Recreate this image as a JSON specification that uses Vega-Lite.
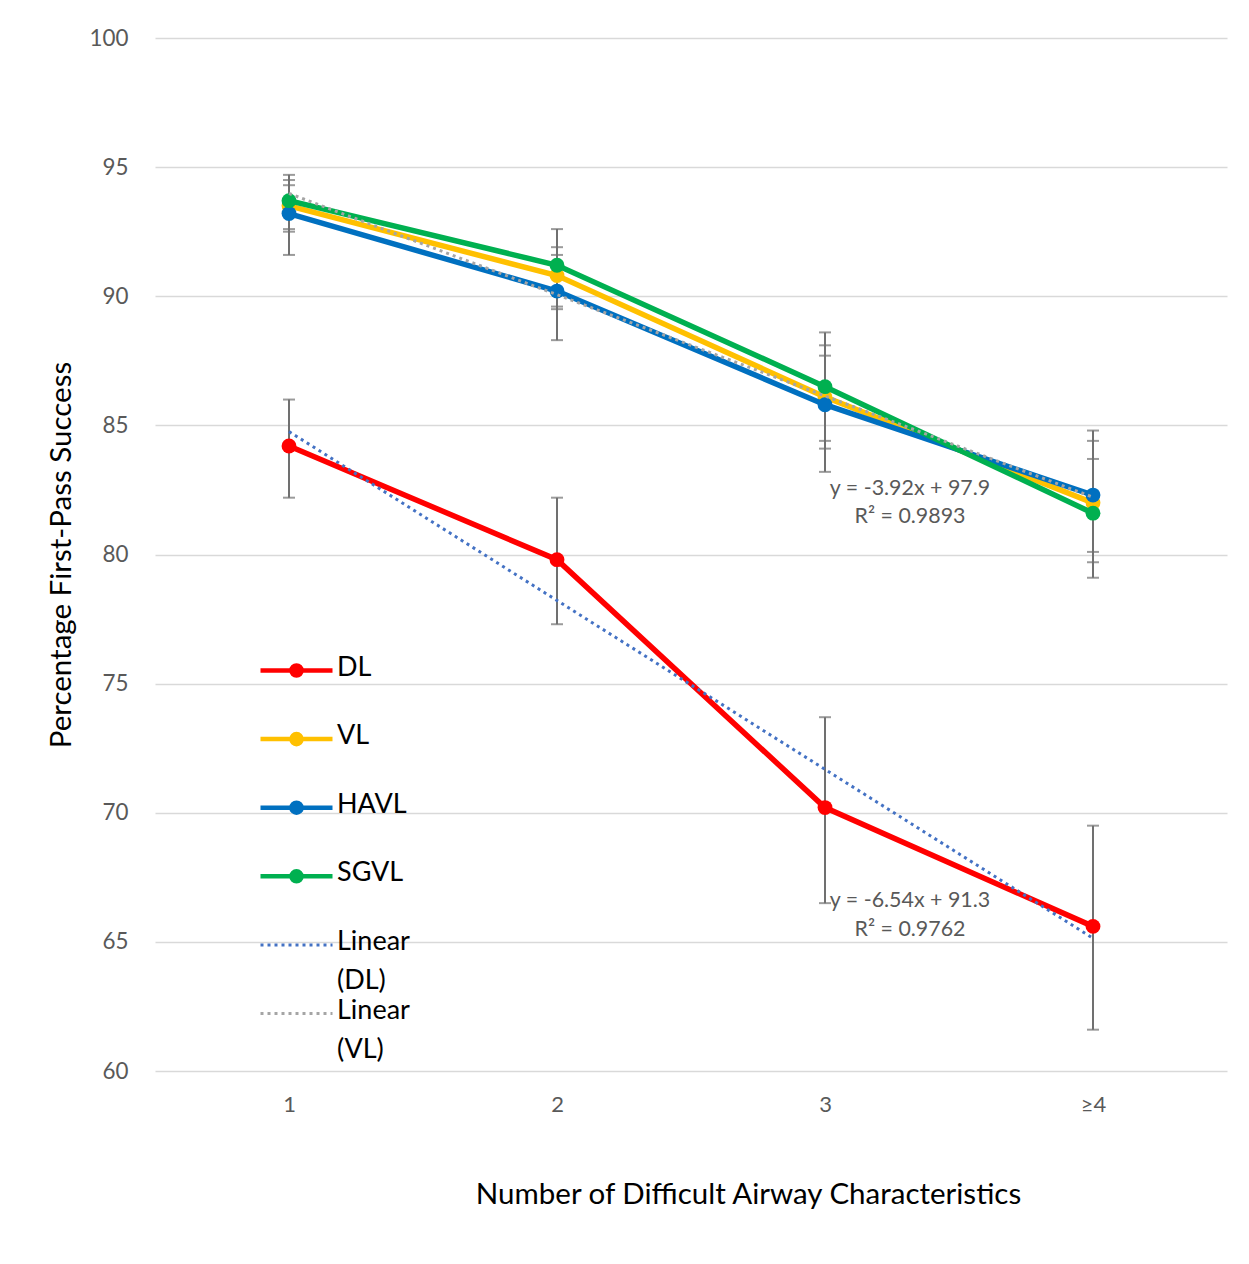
{
  "$schema": "https://vega.github.io/schema/vega-lite/v6.json",
  "width": 1072,
  "height": 1033,
  "autosize": {"type": "none"},
  "padding": {"left": 155, "top": 38, "right": 22, "bottom": 193},
  "background": "white",
  "config": {
    "font": "Lato",
    "view": {"stroke": null},
    "axis": {"labelFont": "Lato", "titleFont": "Lato", "titleFontWeight": "normal"}
  },
  "datasets": {
    "main": [
      {"cat": "1", "series": "DL", "value": 84.2, "low": 82.2, "high": 86.0},
      {"cat": "2", "series": "DL", "value": 79.8, "low": 77.3, "high": 82.2},
      {"cat": "3", "series": "DL", "value": 70.2, "low": 66.5, "high": 73.7},
      {"cat": "≥4", "series": "DL", "value": 65.6, "low": 61.6, "high": 69.5},
      {"cat": "1", "series": "VL", "value": 93.5, "low": 92.5, "high": 94.5},
      {"cat": "2", "series": "VL", "value": 90.8, "low": 89.5, "high": 91.9},
      {"cat": "3", "series": "VL", "value": 86.1, "low": 84.1, "high": 88.1},
      {"cat": "≥4", "series": "VL", "value": 82.0, "low": 79.7, "high": 84.8},
      {"cat": "1", "series": "HAVL", "value": 93.2, "low": 91.6, "high": 94.3},
      {"cat": "2", "series": "HAVL", "value": 90.2, "low": 88.3, "high": 91.6},
      {"cat": "3", "series": "HAVL", "value": 85.8, "low": 83.2, "high": 87.7},
      {"cat": "≥4", "series": "HAVL", "value": 82.3, "low": 80.1, "high": 84.4},
      {"cat": "1", "series": "SGVL", "value": 93.7, "low": 92.6, "high": 94.7},
      {"cat": "2", "series": "SGVL", "value": 91.2, "low": 89.6, "high": 92.6},
      {"cat": "3", "series": "SGVL", "value": 86.5, "low": 84.4, "high": 88.6},
      {"cat": "≥4", "series": "SGVL", "value": 81.6, "low": 79.1, "high": 83.7}
    ],
    "trend": [
      {"cat": "1", "series": "Linear (DL)", "value": 84.76},
      {"cat": "≥4", "series": "Linear (DL)", "value": 65.14},
      {"cat": "1", "series": "Linear (VL)", "value": 93.98},
      {"cat": "≥4", "series": "Linear (VL)", "value": 82.22}
    ],
    "notes": [
      {"cat": "3", "value": 82.54, "text": "y = -3.92x + 97.9"},
      {"cat": "3", "value": 81.45, "text": "R² = 0.9893"},
      {"cat": "3", "value": 66.58, "text": "y = -6.54x + 91.3"},
      {"cat": "3", "value": 65.46, "text": "R² = 0.9762"}
    ]
  },
  "encoding": {
    "x": {
      "field": "cat", "type": "ordinal",
      "scale": {"type": "point", "padding": 0.5, "domain": ["1", "2", "3", "≥4"]},
      "axis": {
        "title": "Number of Difficult Airway Characteristics",
        "labelAngle": 0, "labelFontSize": 22, "labelColor": "#595959", "labelPadding": 23,
        "ticks": false, "domain": false, "grid": false,
        "titleFontSize": 29.5, "titleColor": "#000000", "titlePadding": 65, "titleX": 593, "titleAlign": "center"
      }
    },
    "y": {
      "field": "value", "type": "quantitative",
      "scale": {"domain": [60, 100], "nice": false, "zero": false},
      "axis": {
        "title": "Percentage First-Pass Success",
        "values": [60, 65, 70, 75, 80, 85, 90, 95, 100],
        "labelFontSize": 22.4, "labelColor": "#595959", "labelPadding": 27,
        "ticks": false, "domain": false, "grid": true, "gridColor": "#D9D9D9", "gridWidth": 1.5,
        "titleFontSize": 29.5, "titleColor": "#000000", "titlePadding": 13
      }
    },
    "color": {
      "field": "series", "type": "nominal",
      "scale": {
        "domain": ["DL", "VL", "HAVL", "SGVL", "Linear (DL)", "Linear (VL)"],
        "range": ["#FF0000", "#FFC000", "#0070C0", "#00B050", "#4472C4", "#A5A5A5"]
      },
      "legend": {
        "title": null,
        "orient": "none",
        "legendX": 128,
        "legendY": 619,
        "padding": 0,
        "rowPadding": 1.6,
        "symbolSize": 5184,
        "symbolStrokeWidth": 4.5,
        "labelFontSize": 27,
        "labelFont": "Lato",
        "labelColor": "#000000",
        "labelOffset": 27,
        "labelLimit": 300,
        "labelBaseline": "top",
        "labelExpr": "datum.label == 'Linear (DL)' ? ['Linear', '(DL)'] : datum.label == 'Linear (VL)' ? ['Linear', '(VL)'] : [datum.label, ' ']",
        "encode": {
          "labels": {
            "update": {
              "lineHeight": {"value": 39},
              "dy": {"value": -16}
            }
          },
          "symbols": {
            "update": {
              "shape": {"signal": "indexof(['Linear (DL)', 'Linear (VL)'], datum.value) >= 0 ? 'stroke' : 'M-1,0H1M0.14,0A0.14,0.14,0,1,1,-0.14,0A0.14,0.14,0,1,1,0.14,0Z'"},
              "fill": {"scale": "color", "field": "value"},
              "stroke": {"scale": "color", "field": "value"},
              "strokeDash": {"signal": "indexof(['Linear (DL)', 'Linear (VL)'], datum.value) >= 0 ? [3, 4] : []"},
              "strokeWidth": {"signal": "indexof(['Linear (DL)', 'Linear (VL)'], datum.value) >= 0 ? 3 : 4.5"},
              "opacity": {"value": 1}
            }
          }
        }
      }
    }
  },
  "layer": [
    {
      "data": {"name": "main"},
      "mark": {"type": "errorbar", "ticks": {"size": 12, "thickness": 2, "color": "#707070"}, "rule": {"strokeWidth": 2, "color": "#707070"}},
      "encoding": {
        "y": {"field": "low", "type": "quantitative"},
        "y2": {"field": "high"},
        "color": {"value": "#707070"}
      }
    },
    {
      "data": {"name": "main"},
      "transform": [{"filter": "datum.series == 'DL'"}],
      "mark": {"type": "line", "strokeWidth": 5.5, "point": {"size": 220, "filled": true, "opacity": 1}}
    },
    {
      "data": {"name": "main"},
      "transform": [{"filter": "datum.series == 'VL'"}],
      "mark": {"type": "line", "strokeWidth": 5.5, "point": {"size": 220, "filled": true, "opacity": 1}}
    },
    {
      "data": {"name": "main"},
      "transform": [{"filter": "datum.series == 'HAVL'"}],
      "mark": {"type": "line", "strokeWidth": 5.5, "point": {"size": 220, "filled": true, "opacity": 1}}
    },
    {
      "data": {"name": "main"},
      "transform": [{"filter": "datum.series == 'SGVL'"}],
      "mark": {"type": "line", "strokeWidth": 5.5, "point": {"size": 220, "filled": true, "opacity": 1}}
    },
    {
      "data": {"name": "trend"},
      "mark": {"type": "line", "strokeWidth": 3, "strokeDash": [3, 4]}
    },
    {
      "data": {"name": "notes"},
      "mark": {"type": "text", "fontSize": 21.4, "color": "#595959", "dx": 85, "baseline": "middle", "align": "center", "font": "Lato"},
      "encoding": {
        "text": {"field": "text"},
        "color": {"value": "#595959"}
      }
    }
  ]
}
